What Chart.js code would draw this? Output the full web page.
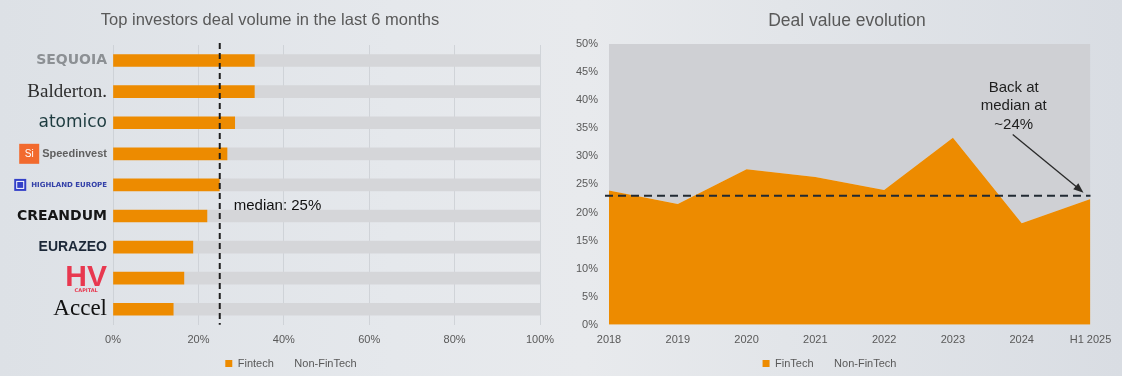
<!DOCTYPE html>
<html>
<head>
<meta charset="utf-8">
<script src="https://cdn.jsdelivr.net/npm/chart.js@4.4.1/dist/chart.umd.min.js"></script>
<style>
  html, body { margin: 0; padding: 0; }
  body {
    width: 1122px; height: 376px; overflow: hidden; position: relative;
    font-family: "Liberation Sans", Arial, sans-serif;
    background: linear-gradient(90deg, #dde1e6 0%, #e5e8ec 35%, #e8eaed 52%, #e2e5e9 70%, #d9dde3 100%);
  }
  .panel { position: absolute; top: 0; height: 376px; }
  #leftPanel { left: 0; width: 560px; }
  #rightPanel { left: 560px; width: 562px; }
  .title { position: absolute; top: 10px; color: #595959; white-space: nowrap; transform: translateX(-50%); }
</style>
</head>
<body>
<div class="panel" id="leftPanel"><canvas id="investors" width="560" height="376"></canvas></div>
<div class="panel" id="rightPanel"><canvas id="evolution" width="562" height="376"></canvas></div>
<div class="title" style="left:270px; font-size:16.5px">Top investors deal volume in the last 6 months</div>
<div class="title" style="left:847px; font-size:17.5px">Deal value evolution</div>
<script>
// left chart: share of fintech deals per investor (%)
const investors = ['SEQUOIA', 'Balderton.', 'atomico', 'Speedinvest', 'HIGHLAND EUROPE', 'CREANDUM', 'EURAZEO', 'HV', 'Accel'];
const fintechShare = [33.1, 33.1, 28.5, 26.7, 24.9, 22.0, 18.7, 16.6, 14.1];
const nonFintechShare = [66.9, 66.9, 71.5, 73.3, 75.1, 78.0, 81.3, 83.4, 85.9];
const medianShare = 25;

// right chart: fintech share of deal value (%)
const years = ['2018', '2019', '2020', '2021', '2022', '2023', '2024', 'H1 2025'];
const fintechValue = [23.9, 21.5, 27.7, 26.3, 24.0, 33.3, 18.1, 22.4];
const nonFintechValue = [76.1, 78.5, 72.3, 73.7, 76.0, 66.7, 81.9, 77.6];
const medianValue = 23;
const noteLines = ['Back at', 'median at', '~24%'];

const ORANGE = '#ED8B00';
const TICK = '#595959';

// one look per investor name, roughly like their logos
const logoFonts = [
  { family: 'DejaVu Sans', size: 14, weight: 'bold' },
  { family: 'Liberation Serif', size: 19 },
  { family: 'DejaVu Sans', size: 17 },
  { family: 'Liberation Sans', size: 11, weight: 'bold' },
  { family: 'DejaVu Sans', size: 7, weight: 'bold' },
  { family: 'DejaVu Sans', size: 14, weight: 'bold' },
  { family: 'Liberation Sans', size: 14, weight: 'bold' },
  { family: 'Liberation Sans', size: 30, weight: 'bold' },
  { family: 'Liberation Serif', size: 23 }
];
const logoColors = ['#8c9094', '#2e2e2e', '#1d3b3f', '#5f5f5f', '#3340a8', '#161616', '#1c2838', '#e8384f', '#111111'];

function hideSecondBox(chart) {
  const items = Chart.defaults.plugins.legend.labels.generateLabels(chart);
  items[1].fillStyle = 'rgba(0,0,0,0)';
  items[1].strokeStyle = 'rgba(0,0,0,0)';
  items.forEach(it => { it.lineWidth = 0; });
  return items;
}

// move the legend sideways / up after layout
const legendShift = (dx, dy) => ({
  id: 'legendShift',
  afterLayout(chart) {
    const lg = chart.legend;
    lg.left += dx; lg.right += dx;
    lg.top += dy; lg.bottom += dy;
  }
});

function fontOf(i) {
  const f = logoFonts[i];
  return (f.style || '') + ' ' + (f.weight || '') + ' ' + f.size + 'px "' + f.family + '"';
}

// dashed median + label, small logo marks
const medianLine = {
  id: 'medianLine',
  afterDatasetsDraw(chart) {
    const { ctx, chartArea, scales: { x, y } } = chart;
    const mx = x.getPixelForValue(medianShare);
    ctx.save();
    ctx.strokeStyle = '#1e1e1e';
    ctx.lineWidth = 2;
    ctx.setLineDash([6, 4]);
    ctx.beginPath();
    ctx.moveTo(mx, chartArea.top - 2);
    ctx.lineTo(mx, chartArea.bottom);
    ctx.stroke();
    ctx.setLineDash([]);
    ctx.fillStyle = '#111';
    ctx.font = '15px "Liberation Sans"';
    ctx.textBaseline = 'middle';
    ctx.fillText('median: ' + medianShare + '%', mx + 14, y.getPixelForValue(5) - 10);

    // logo marks next to the tick labels
    const right = chartArea.left - 6;
    const w = i => { ctx.font = fontOf(i); return ctx.measureText(investors[i]).width; };
    let yy = y.getPixelForValue(3), lx = right - w(3);
    ctx.fillStyle = '#f26a2e';
    ctx.fillRect(lx - 23, yy - 10, 20, 20);
    ctx.fillStyle = '#fff';
    ctx.font = '10px "Liberation Sans"';
    ctx.textAlign = 'center';
    ctx.fillText('Si', lx - 13, yy);
    yy = y.getPixelForValue(4); lx = right - w(4);
    ctx.fillStyle = '#3340c8';
    ctx.fillRect(lx - 17, yy - 6, 12, 12);
    ctx.strokeStyle = '#fff';
    ctx.lineWidth = 1;
    ctx.strokeRect(lx - 14.5, yy - 3.5, 7, 7);
    yy = y.getPixelForValue(7);
    const hvMid = right - w(7) / 2;
    ctx.fillStyle = '#e8384f';
    ctx.font = 'bold 5px "DejaVu Sans"';
    ctx.fillText('CAPITAL', hvMid, yy + 13);
    ctx.restore();
  }
};

new Chart(document.getElementById('investors'), {
  type: 'bar',
  data: {
    labels: investors,
    datasets: [
      { label: 'Fintech', data: fintechShare, backgroundColor: ORANGE, barThickness: 12 },
      { label: 'Non-FinTech', data: nonFintechShare, backgroundColor: '#d5d6d9', barThickness: 12 }
    ]
  },
  options: {
    indexAxis: 'y',
    responsive: false,
    animation: false,
    devicePixelRatio: 1,
    layout: { padding: { left: 0, right: 20, top: 45, bottom: -9 } },
    scales: {
      x: {
        stacked: true, min: 0, max: 100,
        border: { display: false },
        grid: { color: 'rgba(200,204,210,0.75)', drawTicks: false },
        afterFit: s => { s.paddingLeft = 0; s.paddingRight = 0; },
        ticks: { stepSize: 20, padding: 9, color: TICK, font: { size: 11, family: 'Liberation Sans' }, callback: v => v + '%' }
      },
      y: {
        stacked: true,
        border: { display: false },
        grid: { display: false, drawTicks: false },
        afterFit: s => { s.width = 113; },
        ticks: { autoSkip: false, padding: 6, color: c => logoColors[c.index], font: c => logoFonts[c.index] }
      }
    },
    plugins: {
      tooltip: { enabled: false },
      legend: {
        position: 'bottom',
        labels: { boxWidth: 7, boxHeight: 7, padding: 8, color: TICK, font: { size: 11, family: 'Liberation Sans' }, generateLabels: hideSecondBox }
      }
    }
  },
  plugins: [medianLine, legendShift(21, -6)]
});

// dashed median + arrow note
const noteArrow = {
  id: 'noteArrow',
  afterDatasetsDraw(chart) {
    const { ctx, chartArea, scales: { x, y } } = chart;
    const my = y.getPixelForValue(medianValue);
    ctx.save();
    ctx.strokeStyle = '#222a33';
    ctx.lineWidth = 2;
    ctx.setLineDash([8, 5]);
    ctx.beginPath();
    ctx.moveTo(chartArea.left - 4, my);
    ctx.lineTo(chartArea.right, my);
    ctx.stroke();
    ctx.setLineDash([]);

    const cx = x.getPixelForValue(6) - 8;
    ctx.fillStyle = '#1e1e1e';
    ctx.font = '15px "Liberation Sans"';
    ctx.textAlign = 'center';
    ctx.textBaseline = 'middle';
    const ty = y.getPixelForValue(42.2);
    noteLines.forEach((t, i) => ctx.fillText(t, cx, ty + i * 18.5));

    const x0 = cx - 1, y0 = y.getPixelForValue(33.9);
    const x1 = chartArea.right - 7, y1 = my - 3;
    const ang = Math.atan2(y1 - y0, x1 - x0);
    ctx.strokeStyle = '#2a2a2a';
    ctx.lineWidth = 1.3;
    ctx.beginPath();
    ctx.moveTo(x0, y0);
    ctx.lineTo(x1 - 8 * Math.cos(ang), y1 - 8 * Math.sin(ang));
    ctx.stroke();
    ctx.fillStyle = '#2a2a2a';
    ctx.beginPath();
    ctx.moveTo(x1, y1);
    ctx.lineTo(x1 - 10 * Math.cos(ang) + 4 * Math.sin(ang), y1 - 10 * Math.sin(ang) - 4 * Math.cos(ang));
    ctx.lineTo(x1 - 10 * Math.cos(ang) - 4 * Math.sin(ang), y1 - 10 * Math.sin(ang) + 4 * Math.cos(ang));
    ctx.closePath();
    ctx.fill();
    ctx.restore();
  }
};

new Chart(document.getElementById('evolution'), {
  type: 'line',
  data: {
    labels: years,
    datasets: [
      { label: 'FinTech', data: fintechValue, fill: 'origin', backgroundColor: ORANGE, borderWidth: 0, pointRadius: 0, tension: 0 },
      { label: 'Non-FinTech', data: nonFintechValue, fill: '-1', backgroundColor: '#cfd0d4', borderWidth: 0, pointRadius: 0, tension: 0 }
    ]
  },
  options: {
    responsive: false,
    animation: false,
    devicePixelRatio: 1,
    layout: { padding: { left: 8.5, right: 31.5, top: 44, bottom: -9 } },
    scales: {
      x: {
        border: { display: false },
        grid: { display: false, drawTicks: false },
        ticks: { padding: 9, autoSkip: false, maxRotation: 0, color: TICK, font: { size: 11, family: 'Liberation Sans' } }
      },
      y: {
        stacked: true, min: 0, max: 50,
        border: { display: false },
        grid: { display: false, drawTicks: false },
        afterFit: s => { s.width = 40.5; },
        ticks: { stepSize: 5, padding: 11, color: TICK, font: { size: 11, family: 'Liberation Sans' }, callback: v => v + '%' }
      }
    },
    plugins: {
      tooltip: { enabled: false },
      legend: {
        position: 'bottom',
        labels: { boxWidth: 7, boxHeight: 7, padding: 8, color: TICK, font: { size: 11, family: 'Liberation Sans' }, generateLabels: hideSecondBox }
      }
    }
  },
  plugins: [noteArrow, legendShift(0, -6)]
});
</script>
</body>
</html>
